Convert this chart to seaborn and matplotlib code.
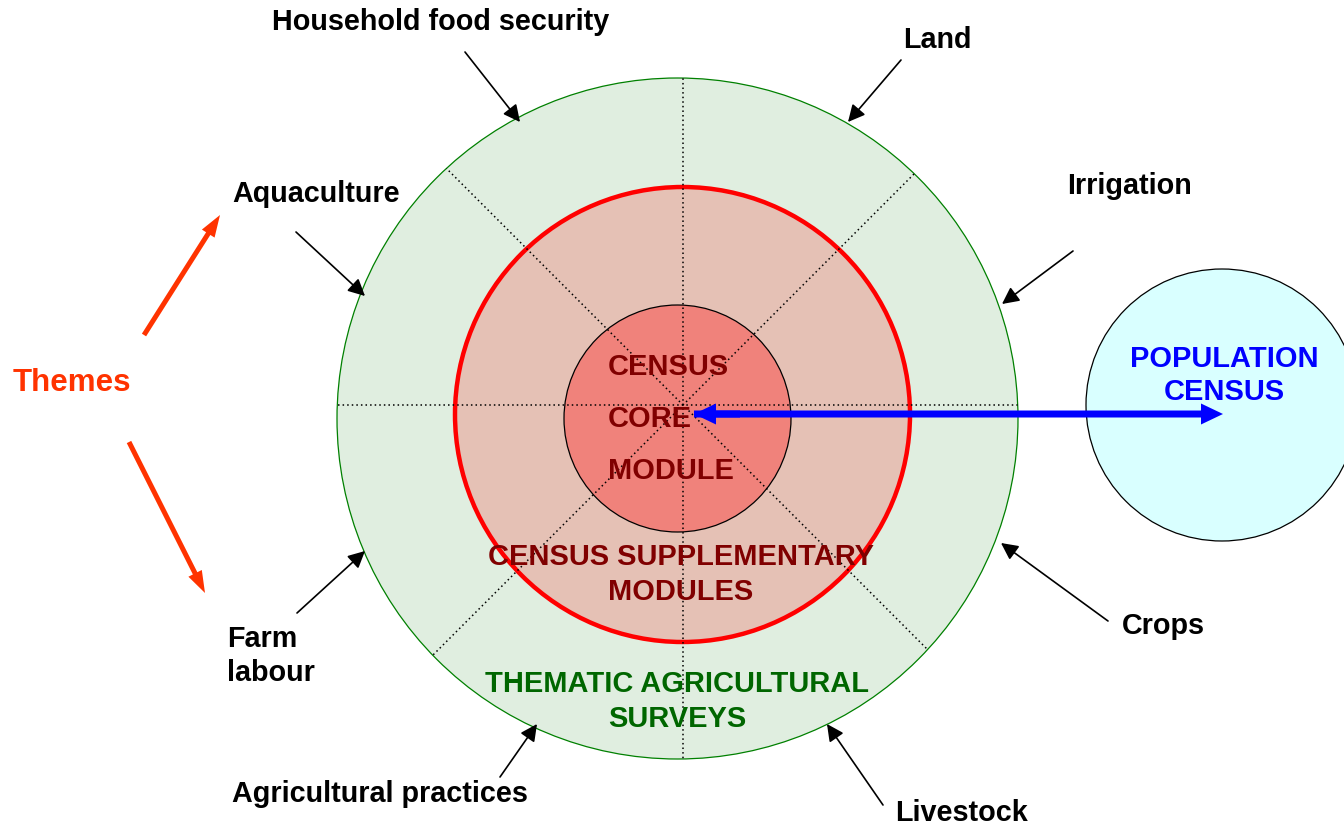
import numpy as np
import seaborn as sns
import matplotlib.pyplot as plt
from matplotlib.patches import Circle

sns.set_theme(style='white')
plt.rcParams['font.family'] = ['Liberation Sans', 'DejaVu Sans']

# themes around the outer ring
themes = ['Household food security', 'Land', 'Irrigation', 'Aquaculture',
          'Farm\nlabour', 'Crops', 'Agricultural practices', 'Livestock']
theme_text_pos = [(272, 30), (903, 48), (1067, 194), (232, 202),
                  (227, 647), (1122, 634), (232, 802), (895, 821)]
theme_arrows = [((465, 52), (520, 122)), ((901, 60), (848, 122)),
                ((1073, 251), (1002, 304)), ((296, 232), (365, 296)),
                ((297, 613), (365, 551)), ((1108, 621), (1001, 543)),
                ((500, 777), (537, 724)), ((883, 805), (827, 724))]

spoke_angles = [0, 45, 90, 135]

core_lines = ['CENSUS', 'CORE', 'MODULE']
supp_label = 'CENSUS SUPPLEMENTARY\nMODULES'
survey_label = 'THEMATIC AGRICULTURAL\nSURVEYS'
pop_label = 'POPULATION\nCENSUS'

fig = plt.figure(figsize=(13.44, 8.27), dpi=100)
ax = fig.add_axes([0, 0, 1, 1])
ax.set_xlim(0, 1344)
ax.set_ylim(827, 0)
ax.axis('off')

# circles
outer = Circle((677.5, 418.5), 340.5, facecolor='#e0eee0', edgecolor='#008000', lw=0.9, zorder=1)
ax.add_patch(outer)
ax.add_patch(Circle((682.5, 414.5), 227.5, facecolor='#e5c1b5', edgecolor='none', zorder=2))
ax.add_patch(Circle((682.5, 414.5), 227.5, facecolor='none', edgecolor='#ff0000', lw=3.2, zorder=3))
ax.add_patch(Circle((677.5, 418.5), 113.5, facecolor='#f0827b', edgecolor='black', lw=0.9, zorder=4))
ax.add_patch(Circle((1222, 405), 136, facecolor='#d9ffff', edgecolor='black', lw=0.9, zorder=1))

# dotted spokes clipped to outer ring
cx, cy = 683, 405
for a in spoke_angles:
    t = np.deg2rad(a)
    dx, dy = 400 * np.cos(t), 400 * np.sin(t)
    sns.lineplot(x=[cx - dx, cx + dx], y=[cy - dy, cy + dy], ax=ax, sort=False,
                 estimator=None, color='black', lw=1.1, linestyle=(0, (1, 2)), zorder=5)
    ax.lines[-1].set_clip_path(outer)

# blue double arrow: full arrow to the right, extra head on the left
ax.arrow(694, 414, 1223 - 694, 0, width=7, head_width=21, head_length=22,
         length_includes_head=True, color='#0000ff', lw=0, zorder=6)
ax.arrow(740, 414, 694 - 740, 0, width=7, head_width=21, head_length=22,
         length_includes_head=True, color='#0000ff', lw=0, zorder=6)

# themes arrows (orange)
for (x0, y0), (x1, y1) in [((144, 335), (220, 215)), ((129, 442), (205, 593))]:
    ax.arrow(x0, y0, x1 - x0, y1 - y0, width=5, head_width=15, head_length=22,
             length_includes_head=True, color='#ff3300', lw=0, zorder=6)
ax.text(13, 391, 'Themes', color='#ff3300', fontsize=22.5, fontweight='bold',
        ha='left', va='baseline')

# theme labels and pointers
for label, (tx, ty), (tail, tip) in zip(themes, theme_text_pos, theme_arrows):
    for i, line in enumerate(label.split('\n')):
        ax.text(tx, ty + 34 * i, line, fontsize=20.7, fontweight='bold', color='black',
                ha='left', va='baseline')
    ax.annotate('', xy=tip, xytext=tail,
                arrowprops=dict(arrowstyle='-|>,head_length=0.6,head_width=0.3',
                                color='black', lw=1.2, mutation_scale=17,
                                shrinkA=0, shrinkB=0), zorder=6)

# circle labels
for lab, y in zip(core_lines, [375, 427, 479]):
    ax.text(608, y, lab, color='#800000', fontsize=20.9, fontweight='bold',
            ha='left', va='baseline', zorder=7)
for lab, y in zip(supp_label.split('\n'), [565, 600]):
    ax.text(681, y, lab, color='#800000', fontsize=20.9, fontweight='bold',
            ha='center', va='baseline', zorder=7)
for lab, y in zip(survey_label.split('\n'), [692, 727]):
    ax.text(677, y, lab, color='#006600', fontsize=20.9, fontweight='bold',
            ha='center', va='baseline', zorder=7)
for lab, y in zip(pop_label.split('\n'), [367, 400]):
    ax.text(1224, y, lab, color='#0000ff', fontsize=20.9, fontweight='bold',
            ha='center', va='baseline', zorder=7)

plt.savefig('out.png', dpi=100)
